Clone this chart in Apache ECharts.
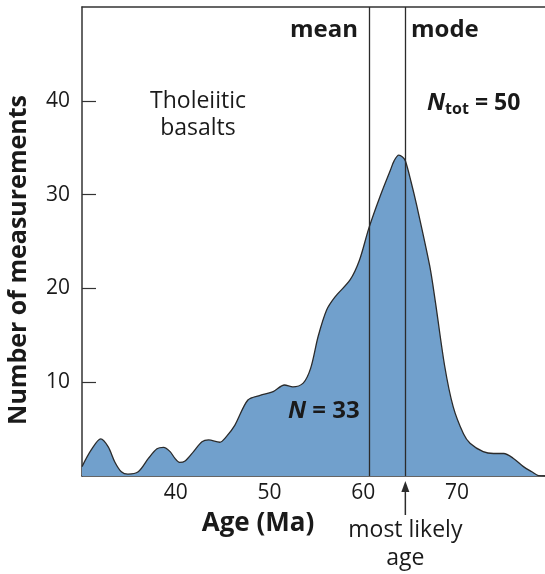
<!DOCTYPE html>
<html>
<head>
<meta charset="utf-8">
<script src="https://cdn.jsdelivr.net/npm/echarts@6/dist/echarts.min.js"></script>
<style>
html, body { margin: 0; padding: 0; background: #fff; }
#chart { width: 545px; height: 574px; }
</style>
</head>
<body>
<div id="chart"></div>
<script>
const ages = [30, 31, 32, 32.8, 33.5, 34.2, 34.9, 36, 37.1, 38, 38.7, 39.4, 39.9, 40.4, 41, 41.9,
    42.8, 43.5, 44.7, 45.4, 46.3, 47.7, 49, 50.4, 51.6, 52.5, 53.6, 54.4, 55.2, 56.1, 57, 58.6,
    59.6, 60.6, 61.8, 62.9, 63.3, 63.8, 64.2, 64.5, 65.1, 65.7, 67.1, 67.7, 68.7, 69.6, 70.7,
    71.4, 72.8, 73.9, 75, 76, 77.1, 78, 78.7, 79.4]
const counts = [1.0, 2.8, 3.95, 3.1, 1.5, 0.45, 0.2, 0.45, 1.9, 2.9, 3.05, 2.6, 1.9, 1.45, 1.6, 2.6,
    3.65, 3.85, 3.6, 4.2, 5.4, 8.1, 8.6, 9.0, 9.7, 9.5, 9.9, 11.5, 14.9, 17.7, 19.1, 20.9,
    23.0, 26.4, 29.8, 32.6, 33.6, 34.2, 34.0, 33.6, 31.4, 28.9, 22.4, 18.6, 11.7, 7.4, 4.5,
    3.5, 2.6, 2.4, 2.4, 1.9, 1.0, 0.45, 0.05, 0]
const xLabels = [40, 50, 60, 70]
const yLabels = [10, 20, 30, 40]
const meanAge = 60.6
const modeAge = 64.5

const FONT = 'Open Sans'
const INK = '#1a1a1a'
const chart = echarts.init(document.getElementById('chart'))

const axisLine = { show: true, lineStyle: { color: '#333', width: 1.5 } }

const option = {
    animation: false,
    grid: { left: 82, right: 0, top: 7, bottom: 98 },
    xAxis: [
        {
            type: 'value', min: 30, max: 79.4, interval: 10, position: 'bottom',
            axisLine: axisLine,
            axisTick: { show: true, inside: true, length: 11, customValues: xLabels, lineStyle: { color: '#333', width: 1.2 } },
            axisLabel: { customValues: xLabels, color: INK, fontSize: 21, fontFamily: FONT, margin: 7 },
            splitLine: { show: false }
        },
        {
            type: 'value', min: 30, max: 79.4, position: 'top',
            axisLine: axisLine,
            axisTick: { show: false }, axisLabel: { show: false }, splitLine: { show: false }
        }
    ],
    yAxis: {
        type: 'value', min: 0, max: 50, interval: 10,
        axisLine: axisLine,
        axisTick: { show: true, inside: true, length: 14, customValues: yLabels, lineStyle: { color: '#333', width: 1.2 } },
        axisLabel: { customValues: yLabels, color: INK, fontSize: 21, fontFamily: FONT, margin: 12 },
        splitLine: { show: false }
    },
    series: [
        {
            type: 'line',
            xAxisIndex: 0,
            data: ages.map((a, i) => [a, counts[i]]),
            smooth: 0.3,
            symbol: 'none',
            lineStyle: { color: '#2b2b2b', width: 1.3 },
            areaStyle: { color: '#71a0cc', opacity: 1 },
            markLine: {
                silent: true,
                symbol: 'none',
                label: { show: false },
                lineStyle: { color: '#2b2b2b', width: 1.3, type: 'solid' },
                data: [{ xAxis: meanAge }, { xAxis: modeAge }]
            },
            z: 2
        }
    ]
}

chart.setOption(option)

// annotations
const modeX = chart.convertToPixel({ xAxisIndex: 0 }, modeAge)
const boldText = (x, y, text, align, size) => ({
    type: 'text', x: x, y: y, z: 100,
    style: { text: text, fill: INK, font: 'bold ' + size + 'px "' + FONT + '"', align: align, verticalAlign: 'middle' }
})

chart.setOption({
    graphic: [
        boldText(358, 30, 'mean', 'right', 24),
        boldText(411, 30, 'mode', 'left', 24),
        {
            type: 'text', x: 198, y: 115, z: 100,
            style: { text: 'Tholeiitic\nbasalts', fill: INK, font: '23px "' + FONT + '"', lineHeight: 27, align: 'center', verticalAlign: 'middle' }
        },
        {
            type: 'text', x: 427, y: 103, z: 100,
            style: {
                text: '{n|N}{s|tot}{b| = 50}', align: 'left', verticalAlign: 'middle',
                rich: {
                    n: { fill: INK, fontFamily: FONT, fontSize: 24, fontWeight: 'bold', fontStyle: 'italic', lineHeight: 28, verticalAlign: 'middle' },
                    s: { fill: INK, fontFamily: FONT, fontSize: 16, fontWeight: 'bold', lineHeight: 28, verticalAlign: 'bottom', padding: [8, 0, 0, 0] },
                    b: { fill: INK, fontFamily: FONT, fontSize: 23, fontWeight: 'bold', lineHeight: 28, verticalAlign: 'middle' }
                }
            }
        },
        {
            type: 'text', x: 288, y: 411, z: 100,
            style: {
                text: '{n|N}{b| = 33}', align: 'left', verticalAlign: 'middle',
                rich: {
                    n: { fill: INK, fontFamily: FONT, fontSize: 24, fontWeight: 'bold', fontStyle: 'italic' },
                    b: { fill: INK, fontFamily: FONT, fontSize: 24, fontWeight: 'bold' }
                }
            }
        },
        boldText(258, 524, 'Age (Ma)', 'center', 26),
        {
            type: 'text', x: modeX, y: 544, z: 100,
            style: { text: 'most likely\nage', fill: INK, font: '23px "' + FONT + '"', lineHeight: 28, align: 'center', verticalAlign: 'middle' }
        },
        {
            type: 'text', x: 19, y: 260, rotation: Math.PI / 2, z: 100,
            style: { text: 'Number of measurements', fill: INK, font: 'bold 25px "' + FONT + '"', align: 'center', verticalAlign: 'middle' }
        },
        {
            type: 'line', z: 100,
            shape: { x1: modeX, y1: 515, x2: modeX, y2: 488 },
            style: { stroke: '#2b2b2b', lineWidth: 1.5 }
        },
        {
            type: 'polygon', z: 100,
            shape: { points: [[modeX, 481], [modeX - 4, 492], [modeX + 4, 492]] },
            style: { fill: '#2b2b2b' }
        }
    ]
})
</script>
</body>
</html>
